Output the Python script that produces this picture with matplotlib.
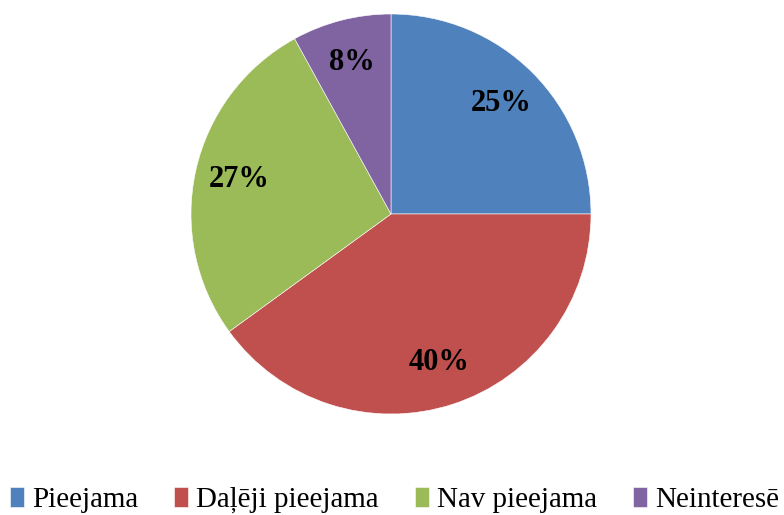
import numpy as np
from matplotlib import pyplot as plt

labels = ['Pieejama', 'Daļēji pieejama', 'Nav pieejama', 'Neinteresē']
shares = [25, 40, 27, 8]
colors = ['#4F81BD', '#C0504D', '#9BBB59', '#8064A2']

plt.rcParams['font.family'] = ['Liberation Serif', 'DejaVu Serif']

fig = plt.figure(figsize=(7.84, 5.15), dpi=100)
# pie centre at (391, 214) px, radius 200 px
ax = fig.add_axes([191 / 784, 101 / 515, 400 / 784, 400 / 515])

wedges, texts, autotexts = ax.pie(
    shares, colors=colors, startangle=90, counterclock=False,
    autopct='%1.0f%%', pctdistance=0.78, radius=1,
    wedgeprops=dict(edgecolor='white', linewidth=0.4),
    textprops=dict(fontsize=22, fontweight='bold', color='black'))
ax.set_xlim(-1, 1)
ax.set_ylim(-1, 1)
ax.set_aspect('equal')

fig.legend(wedges, labels, loc='center left',
           bbox_to_anchor=(10 / 784, 1 - 500 / 515),
           ncol=4, frameon=False, fontsize=20.9,
           handlelength=0.48, handleheight=0.7, handletextpad=0.28,
           columnspacing=1.24, borderpad=0, borderaxespad=0)

fig.savefig('out.png', dpi=100)
